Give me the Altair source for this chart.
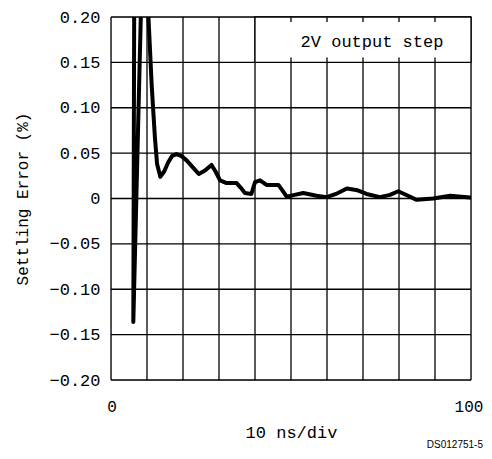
import altair as alt
import pandas as pd

# Settling error curve (time in ns, error in %)
t_ns = [6.45, 6.2, 8.4, 9.3, 10.4, 11.3, 12.2, 12.8, 13.7, 14.8, 15.9, 17.0, 18.2, 19.5, 21.0,
        22.8, 24.4, 26.2, 27.9, 29.0, 30.3, 32.1, 34.9, 36.0, 37.2, 39.0, 40.0, 41.4, 43.2,
        46.5, 47.6, 48.8, 51.0, 53.4, 57.1, 59.9, 62.5, 65.5, 68.5, 71.0, 74.7, 77.5, 79.8,
        82.5, 84.9, 89.5, 94.2, 99.7]
err_pct = [0.22, -0.136, 0.22, 0.27, 0.2, 0.125, 0.067, 0.038, 0.024, 0.030, 0.040, 0.047,
           0.049, 0.047, 0.042, 0.034, 0.027, 0.031, 0.037, 0.030, 0.020, 0.017, 0.017, 0.012,
           0.006, 0.005, 0.018, 0.020, 0.015, 0.015, 0.009, 0.002, 0.004, 0.006, 0.003, 0.0015,
           0.005, 0.011, 0.009, 0.005, 0.0015, 0.004, 0.008, 0.003, -0.0015, 0.0, 0.003, 0.001]

x_grid = [0, 10, 20, 30, 40, 50, 60, 70, 80, 90, 100]
x_labels = [0, 100]
y_grid = [-0.20, -0.15, -0.10, -0.05, 0.0, 0.05, 0.10, 0.15, 0.20]

legend_text = ["2V output step"]
legend_box_x = [40, 100]
legend_box_y = [0.15, 0.20]
legend_stub_x = [50, 60, 70, 80, 90]
stub_len = 0.0055

df = pd.DataFrame({"t": t_ns, "e": err_pct, "i": list(range(len(t_ns)))})

FONT = "Liberation Mono"

xs = alt.Scale(domain=[0, 100], nice=False)
ys = alt.Scale(domain=[-0.2, 0.2], nice=False)

x_axis = alt.Axis(values=x_labels, grid=False, ticks=False, domain=False, labels=False,
                  title="10 ns/div", titleFont=FONT, titleFontSize=17, titleFontWeight="normal",
                  titleColor="black", titlePadding=44)
y_axis = alt.Axis(values=y_grid, grid=False, ticks=False, domain=False,
                  labelFont=FONT, labelFontSize=17, labelColor="black",
                  labelPadding=11, labelOverlap=False,
                  labelExpr="abs(datum.value) < 1e-9 ? '0' : format(datum.value, '.2f')",
                  title="Settling Error (%)", titleFont=FONT, titleFontSize=16,
                  titleFontWeight="normal", titleColor="black", titlePadding=18)

vgrid = alt.Chart(pd.DataFrame({"x": x_grid})).mark_rule(color="black", strokeWidth=1.3).encode(
    x=alt.X("x:Q", scale=xs, axis=x_axis))
hgrid = alt.Chart(pd.DataFrame({"y": y_grid})).mark_rule(color="black", strokeWidth=1.3).encode(
    y=alt.Y("y:Q", scale=ys, axis=y_axis))

xlab_first = alt.Chart(pd.DataFrame({"x": [x_labels[0]], "t": [str(x_labels[0])]})).mark_text(
    font=FONT, fontSize=16, color="black", align="center", baseline="top", dx=1).encode(
    x=alt.X("x:Q", scale=xs), y=alt.value(382), text="t:N")
xlab_last = alt.Chart(pd.DataFrame({"x": [x_labels[1]], "t": [str(x_labels[1])]})).mark_text(
    font=FONT, fontSize=16, color="black", align="center", baseline="top", dx=-2).encode(
    x=alt.X("x:Q", scale=xs), y=alt.value(382), text="t:N")

box_df = pd.DataFrame({"x": [legend_box_x[0]], "x2": [legend_box_x[1]],
                       "y": [legend_box_y[0]], "y2": [legend_box_y[1]]})
box = alt.Chart(box_df).mark_rect(fill="white", stroke="black", strokeWidth=1.3).encode(
    x=alt.X("x:Q", scale=xs), x2="x2:Q", y=alt.Y("y:Q", scale=ys), y2="y2:Q")

stub_rows = []
for sx in legend_stub_x:
    stub_rows.append({"x": sx, "y": legend_box_y[1], "y2": legend_box_y[1] - stub_len})
    stub_rows.append({"x": sx, "y": legend_box_y[0], "y2": legend_box_y[0] + stub_len})
stubs = alt.Chart(pd.DataFrame(stub_rows)).mark_rule(color="black", strokeWidth=1.3).encode(
    x=alt.X("x:Q", scale=xs), y=alt.Y("y:Q", scale=ys), y2="y2:Q")

label = alt.Chart(pd.DataFrame({"x": [72.5], "y": [0.1725], "t": legend_text})).mark_text(
    font=FONT, fontSize=17, color="black", align="center", baseline="middle").encode(
    x=alt.X("x:Q", scale=xs), y=alt.Y("y:Q", scale=ys), text="t:N")

line = alt.Chart(df).mark_line(color="black", strokeWidth=4, clip=True,
                               strokeJoin="round", strokeCap="round").encode(
    x=alt.X("t:Q", scale=xs), y=alt.Y("e:Q", scale=ys), order="i:Q")

code = alt.Chart(pd.DataFrame({"t": ["DS012751-5"]})).mark_text(
    font="Liberation Sans", fontSize=10, color="black", align="right", baseline="alphabetic").encode(
    x=alt.value(372), y=alt.value(431), text="t:N")

chart = alt.layer(vgrid, hgrid, xlab_first, xlab_last, box, stubs, label, line, code).properties(
    width=360, height=363,
    autosize=alt.AutoSizeParams(type="none"),
    padding={"left": 103, "top": 9, "right": 13, "bottom": 70},
).configure_view(stroke="black", strokeWidth=2).configure(background="white")

chart.save("out.html", embed_options={"renderer": "svg", "actions": False})
